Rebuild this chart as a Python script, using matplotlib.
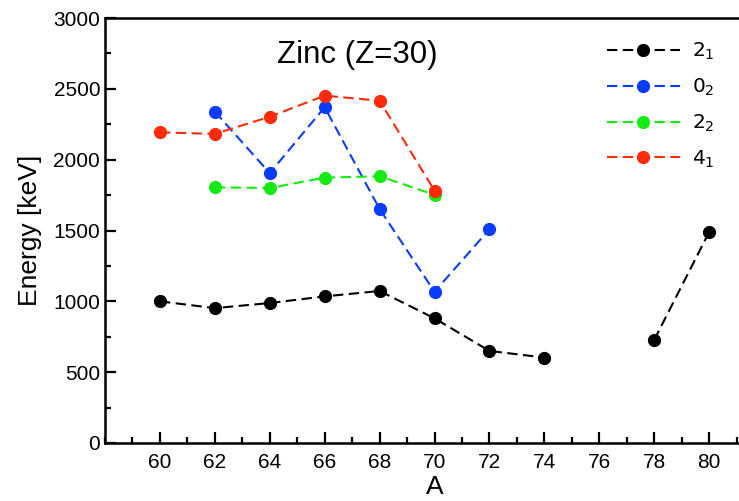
# Zinc (Z=30) low-lying level energies vs mass number A
import matplotlib.pyplot as plt
from matplotlib.ticker import MultipleLocator

plt.rcParams['font.family'] = ['Liberation Sans', 'DejaVu Sans']

# data
A_21 = [60, 62, 64, 66, 68, 70, 72, 74, None, 78, 80]
E_21 = [1000, 952, 988, 1035, 1073, 880, 650, 603, None, 727, 1488]
A_02 = [62, 64, 66, 68, 70, 72]
E_02 = [2339, 1905, 2370, 1652, 1068, 1508]
A_22 = [62, 64, 66, 68, 70]
E_22 = [1805, 1800, 1873, 1883, 1752]
A_41 = [60, 62, 64, 66, 68, 70]
E_41 = [2193, 2182, 2303, 2452, 2416, 1782]

labels = ['$2_1$', '$0_2$', '$2_2$', '$4_1$']
colors = ['black', '#0a3cff', '#14eb14', '#ff2a0a']

fig = plt.figure(figsize=(7.39, 5.01), dpi=100)
# axes run past the right edge of the figure, like the reference crop
ax = fig.add_axes([105/739, 58/501, 659/739, 425/501])

series = [(A_21, E_21), (A_02, E_02), (A_22, E_22), (A_41, E_41)]
for (a, e), lab, c in zip(series, labels, colors):
    a = [float('nan') if v is None else v for v in a]
    e = [float('nan') if v is None else v for v in e]
    ax.plot(a, e, ls=(0, (5, 2.6)), lw=1.5, color=c, marker='o', ms=8.5,
            mec=c, mfc=c, label=lab)

ax.set_xlim(58, 82)
ax.set_ylim(0, 3000)
ax.set_xticks(range(60, 81, 2))
ax.xaxis.set_minor_locator(MultipleLocator(1))
ax.yaxis.set_major_locator(MultipleLocator(500))
ax.yaxis.set_minor_locator(MultipleLocator(250))
ax.tick_params(which='both', direction='in', width=1.6, labelsize=15,
               top=False, right=False)
ax.tick_params(which='major', length=8)
ax.tick_params(which='minor', length=4.5)
ax.tick_params(axis='x', pad=7)
for s in ax.spines.values():
    s.set_linewidth(1.8)

ax.set_xlabel('A', fontsize=19, labelpad=2)
ax.set_ylabel('Energy [keV]', fontsize=19, labelpad=8)
fig.text(357/739, 1 - 55/501, 'Zinc (Z=30)', fontsize=22.5,
         ha='center', va='center')

ax.legend(loc='upper left', bbox_to_anchor=(597/739, 1 - 31/501),
          bbox_transform=fig.transFigure, frameon=False, fontsize=14.5,
          handlelength=3.6, handletextpad=0.6, labelspacing=0.72,
          borderpad=0)

fig.savefig('out.png', dpi=100)
